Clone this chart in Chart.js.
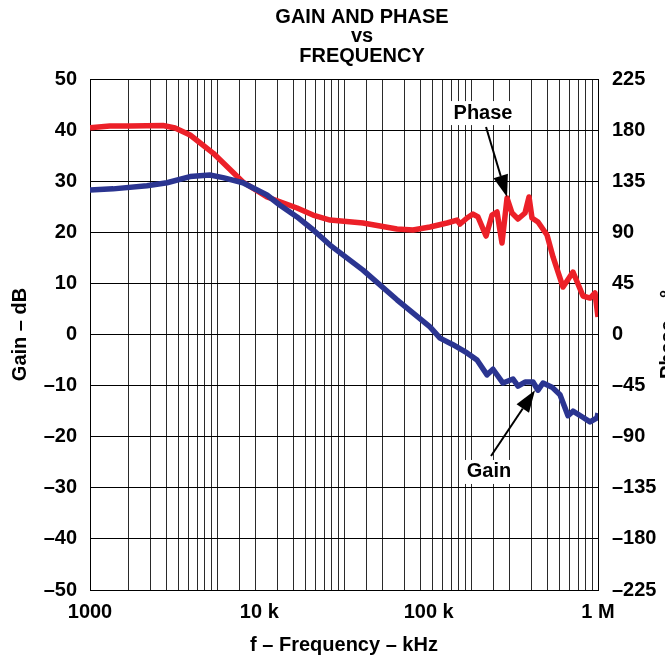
<!DOCTYPE html>
<html>
<head>
<meta charset="utf-8">
<title>Gain and Phase vs Frequency</title>
<script src="https://cdn.jsdelivr.net/npm/chart.js@4.4.1/dist/chart.umd.min.js"></script>
<style>
  html, body { margin: 0; padding: 0; background: #fff; overflow: hidden; }
  #wrap { width: 665px; height: 662px; }
</style>
</head>
<body>
<div id="wrap"><canvas id="chart" width="665" height="662"></canvas></div>
<script>
// values (frequency in the units of the x tick labels)
const gainFreq = [1000, 1370, 2170, 2850, 3900, 5100, 6100, 8000, 11100, 13250,
    16700, 20750, 26150, 40950, 65000, 101800, 116700, 139200, 168500, 193000,
    221200, 239900, 274800, 314900, 337100, 370700, 413200, 442300, 473500, 535100,
    596600, 665100, 711800, 804600, 897100, 986600, 1000000];
const gainDb = [28.3, 28.5, 29.1, 29.7, 30.9, 31.2, 30.7, 29.7, 27.3, 25.3,
    23.0, 20.5, 17.5, 12.6, 6.8, 1.5, -0.7, -2.0, -3.6, -5.0,
    -7.9, -6.8, -9.5, -8.7, -10.1, -9.3, -9.3, -10.9, -9.5, -10.3,
    -11.8, -15.9, -15.0, -16.1, -17.1, -16.3, -15.4];

const phaseFreq = [1000, 1310, 1720, 2700, 3180, 3900, 5330, 8000, 11100, 16700,
    20750, 26150, 40950, 65000, 80800, 101800, 128300, 147000, 153200, 168500,
    182700, 195600, 218200, 236700, 253300, 271100, 290300, 310700, 337100, 370700,
    391400, 407600, 442300, 499900, 542500, 621500, 711800, 815600, 897100, 960100,
    1000000];
const phaseDeg = [182.1, 183.6, 183.6, 184.1, 181.9, 175.7, 159.8, 134.3, 121.1, 111.4,
    105.2, 100.8, 98.2, 92.9, 92.0, 94.7, 98.2, 100.8, 97.3, 102.6,
    106.1, 103.5, 86.7, 105.2, 107.9, 80.6, 120.2, 107.0, 101.7, 107.0,
    121.1, 102.6, 99.1, 87.6, 68.3, 41.8, 55.0, 33.9, 32.1, 36.6,
    15.4];

const freqTicks = [1000, 10000, 100000, 1000000];
const freqTickLabels = ['1000', '10 k', '100 k', '1 M'];
const gainRange = [-50, 50];
const phaseRange = [-225, 225];
const titleLines = ['GAIN AND PHASE', 'vs', 'FREQUENCY'];

// callout anchors [freq, value]
const phaseNote = [209400, 195];
const phaseTip = [290300, 121];
const gainNote = [227200, -26.9];
const gainTip = [424600, -10.9];

const RED = '#ec2028';
const BLUE = '#2b3591';
const FONT = '"Liberation Sans", Arial, Helvetica, sans-serif';
const SIZE = 20;

function dash(v) {
    return v < 0 ? '\u2013' + Math.abs(v) : String(v);
}

function drawCallout(ctx, text, tx, ty, sx, sy, ex, ey) {
    ctx.save();
    ctx.font = 'bold ' + SIZE + 'px ' + FONT;
    const w = ctx.measureText(text).width;
    ctx.fillStyle = '#fff';
    ctx.fillRect(tx - w / 2 - 3, ty - 12, w + 6, 24);
    ctx.fillStyle = '#000';
    ctx.textAlign = 'center';
    ctx.textBaseline = 'middle';
    ctx.fillText(text, tx, ty);

    // arrow shaft and head
    const ang = Math.atan2(ey - sy, ex - sx);
    const headLen = 22, headHalf = 7.5;
    const bx = ex - headLen * Math.cos(ang), by = ey - headLen * Math.sin(ang);
    ctx.strokeStyle = '#000';
    ctx.lineWidth = 2;
    ctx.beginPath();
    ctx.moveTo(sx, sy);
    ctx.lineTo(bx, by);
    ctx.stroke();
    ctx.beginPath();
    ctx.moveTo(ex, ey);
    ctx.lineTo(bx + headHalf * Math.sin(ang), by - headHalf * Math.cos(ang));
    ctx.lineTo(bx - headHalf * Math.sin(ang), by + headHalf * Math.cos(ang));
    ctx.closePath();
    ctx.fillStyle = '#000';
    ctx.fill();
    ctx.restore();
}

const calloutPlugin = {
    id: 'callouts',
    afterDatasetsDraw(chart) {
        const { ctx, scales, chartArea } = chart;
        const x = scales.x, yg = scales.y, yp = scales.y2;

        const ptx = x.getPixelForValue(phaseNote[0]), pty = yp.getPixelForValue(phaseNote[1]);
        drawCallout(ctx, 'Phase', ptx, pty, ptx + 3, pty + 14,
            x.getPixelForValue(phaseTip[0]), yp.getPixelForValue(phaseTip[1]));

        const gtx = x.getPixelForValue(gainNote[0]), gty = yg.getPixelForValue(gainNote[1]);
        drawCallout(ctx, 'Gain', gtx, gty, gtx + 2, gty - 16,
            x.getPixelForValue(gainTip[0]), yg.getPixelForValue(gainTip[1]));

        ctx.save();
        ctx.font = 'bold ' + SIZE + 'px ' + FONT;
        ctx.fillStyle = '#000';
        ctx.textAlign = 'center';
        ctx.textBaseline = 'middle';

        // three-line heading, set a little right of the plot centre as on the sheet
        const cx = (chartArea.left + chartArea.right) / 2 + 18;
        titleLines.forEach((t, i) => ctx.fillText(t, cx, 17 + i * 19.5));

        // right axis title, partly off the page like the original
        ctx.translate(668, (chartArea.top + chartArea.bottom) / 2);
        ctx.rotate(-Math.PI / 2);
        ctx.fillText('Phase \u2013 \u00b0', 0, 0);
        ctx.restore();
    }
};

const tickFont = { family: FONT, size: SIZE, weight: 'bold' };

new Chart(document.getElementById('chart'), {
    type: 'line',
    data: {
        datasets: [
            {
                label: 'Gain',
                data: gainFreq.map((f, i) => ({ x: f, y: gainDb[i] })),
                yAxisID: 'y',
                borderColor: BLUE,
                borderWidth: 5.5,
                pointRadius: 0,
                tension: 0,
                borderJoinStyle: 'round'
            },
            {
                label: 'Phase',
                data: phaseFreq.map((f, i) => ({ x: f, y: phaseDeg[i] })),
                yAxisID: 'y2',
                borderColor: RED,
                borderWidth: 5.5,
                pointRadius: 0,
                tension: 0,
                borderJoinStyle: 'round'
            }
        ]
    },
    options: {
        responsive: false,
        animation: false,
        layout: { padding: { top: 79 } },
        plugins: {
            legend: { display: false },
            tooltip: { enabled: false },
            title: { display: false }
        },
        scales: {
            x: {
                type: 'logarithmic',
                position: 'bottom',
                min: 1000,
                max: 1000000,
                afterBuildTicks: (s) => { s.ticks = freqTicks.map(v => ({ value: v })); },
                afterFit: (s) => { s.height = 72; },
                grid: { display: false, drawTicks: false },
                border: { display: true, color: '#000', width: 1 },
                ticks: {
                    color: '#000',
                    padding: 10,
                    maxRotation: 0,
                    autoSkip: false,
                    font: tickFont,
                    callback: (v) => freqTickLabels[freqTicks.indexOf(v)]
                },
                title: {
                    display: true,
                    text: 'f \u2013 Frequency \u2013 kHz',
                    color: '#000',
                    font: tickFont,
                    padding: { bottom: 5 }
                }
            },
            // four-cycle log paper grid of the original sheet
            xg: {
                type: 'logarithmic',
                position: 'top',
                min: 1,
                max: 10000,
                afterFit: (s) => { s.height = 0; },
                grid: { color: '#2a2a2a', lineWidth: 1, drawTicks: false },
                border: { display: true, color: '#000' },
                ticks: { display: false, autoSkip: false }
            },
            y: {
                position: 'left',
                min: gainRange[0],
                max: gainRange[1],
                afterFit: (s) => { s.width = 90; },
                grid: { color: '#000', lineWidth: 1, drawTicks: false },
                border: { display: true, color: '#000' },
                ticks: {
                    stepSize: 10,
                    color: '#000',
                    padding: 13,
                    font: tickFont,
                    callback: (v) => dash(v)
                },
                title: {
                    display: true,
                    text: 'Gain \u2013 dB',
                    color: '#000',
                    font: tickFont,
                    padding: { top: 8 }
                }
            },
            y2: {
                position: 'right',
                min: phaseRange[0],
                max: phaseRange[1],
                afterFit: (s) => { s.width = 67; },
                grid: { display: false, drawTicks: false },
                border: { display: true, color: '#000' },
                ticks: {
                    stepSize: 45,
                    color: '#000',
                    padding: 14,
                    font: tickFont,
                    callback: (v) => dash(v)
                }
            }
        }
    },
    plugins: [calloutPlugin]
});
</script>
</body>
</html>
